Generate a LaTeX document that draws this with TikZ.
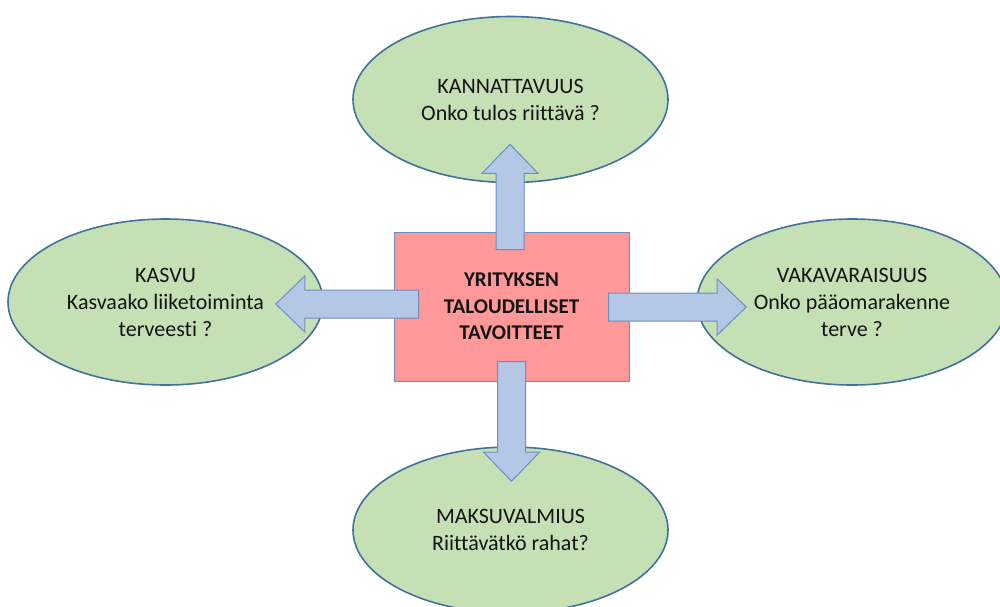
\documentclass[tikz,border=0pt]{standalone}
\usepackage{fontspec}
\setmainfont{Carlito}[Ligatures={NoCommon}]
\usetikzlibrary{shapes.geometric,calc}

\definecolor{goalfill}{RGB}{197,224,180}
\definecolor{goalline}{RGB}{65,113,156}
\definecolor{corefill}{RGB}{255,153,153}
\definecolor{coreline}{RGB}{110,140,190}
\definecolor{arrowfill}{RGB}{180,199,231}
\definecolor{arrowline}{RGB}{108,142,191}
\definecolor{ink}{RGB}{20,20,20}

% wide block arrow from start #2 to tip #3 (#1 names the helper point)
\newcommand\blockarrow[3]{%
  \coordinate (#1-h) at ($(#3)!29pt!(#2)$);
  \draw[arrowshape]
    ($(#2)!14pt!90:(#3)$) -- ($(#1-h)!14pt!90:(#3)$) -- ($(#1-h)!28pt!90:(#3)$)
    -- (#3)
    -- ($(#1-h)!28pt!-90:(#3)$) -- ($(#1-h)!14pt!-90:(#3)$) -- ($(#2)!14pt!-90:(#3)$)
    -- cycle;
}

\begin{document}
\begin{tikzpicture}[x=1pt,y=-1pt,
  goal/.style={ellipse, draw=goalline, fill=goalfill, line width=1.6pt,
    minimum width=315pt, minimum height=166pt, inner sep=0pt,
    align=center, text=ink, font=\fontsize{22pt}{27pt}\selectfont},
  core/.style={rectangle, draw=coreline, fill=corefill, line width=1pt,
    minimum width=235pt, minimum height=149pt, inner sep=0pt,
    align=center, text=ink, font=\fontsize{21pt}{26.5pt}\selectfont\bfseries},
  arrowshape/.style={draw=arrowline, fill=arrowfill, line width=1pt, line join=miter}]

\useasboundingbox (0,0) rectangle (1000,606);

% outer goals
\node[goal] (kann) at (510.5,99.5) {KANNATTAVUUS\\Onko tulos riittävä ?};
\node[goal] (kasvu) at (165.5,302) {KASVU\\Kasvaako liiketoiminta\\terveesti ?};
\node[goal, minimum width=310pt] (vaka) at (852,302) {VAKAVARAISUUS\\Onko pääomarakenne\\terve ?};
\node[goal] (maksu) at (510.5,530) {MAKSUVALMIUS\\Riittävätkö rahat?};

% central box
\node[core] (box) at (511.5,306.5) {YRITYKSEN\\TALOUDELLISET\\TAVOITTEET};

% arrow end points
\coordinate (us) at ($(box.north)+(-1.5,18)$);
\coordinate (ut) at ($(us |- kann.south)+(0,-39)$);
\coordinate (ds) at ($(box.south)+(0,-20)$);
\coordinate (dt) at ($(ds |- maksu.north)+(0,35)$);
\coordinate (ls) at ($(box.west)+(25,-2.5)$);
\coordinate (lt) at ($(ls -| kasvu.east)+(-48,0)$);
\coordinate (rs) at ($(box.east)+(-21,0.5)$);
\coordinate (rt) at ($(rs -| vaka.west)+(50,0)$);

\blockarrow{up}{us}{ut}
\blockarrow{dn}{ds}{dt}
\blockarrow{lf}{ls}{lt}
\blockarrow{rg}{rs}{rt}

\end{tikzpicture}
\end{document}
